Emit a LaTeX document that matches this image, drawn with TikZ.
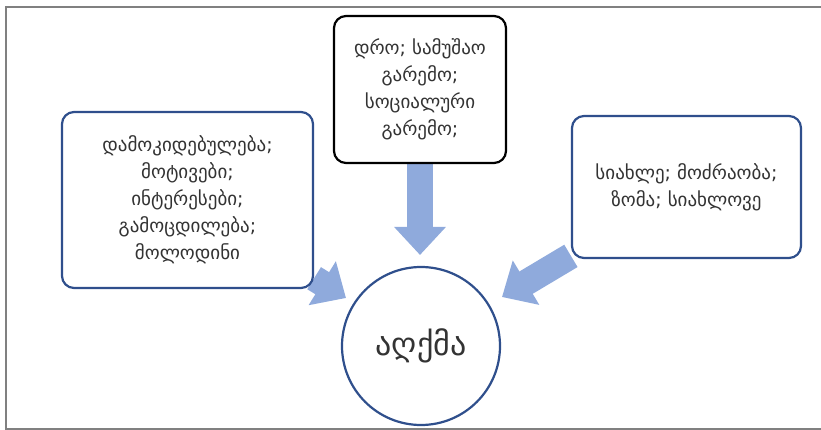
\documentclass[tikz,border=0pt]{standalone}
\usepackage{fontspec}
\setmainfont{DejaVu Sans}
\usetikzlibrary{arrows.meta,backgrounds}

\definecolor{boxblue}{HTML}{2F4F8C}
\definecolor{arrowblue}{HTML}{8FAADC}
\definecolor{textgray}{HTML}{333333}

\tikzset{
	factor/.style={draw=boxblue, line width=2.2pt, rounded corners=12pt, fill=white, align=center, text=textgray, inner sep=0pt, font=\fontsize{19}{27}\selectfont},
	flow/.style={draw=arrowblue, line width=26pt, -{Triangle[length=28pt, width=50pt]}},
}

\begin{document}
\begin{tikzpicture}[x=1pt, y=-1pt]
		\useasboundingbox (0, 0) rectangle (821, 430);
		\draw [gray, line width=1.5pt] (6, 7) rectangle (830, 429);

		\node[factor, minimum width=251pt, minimum height=176pt] (pers) at (187.5, 200) {დამოკიდებულება;\\მოტივები;\\ინტერესები;\\გამოცდილება;\\მოლოდინი};
		\node[factor, draw=black, minimum width=172pt, minimum height=147pt] (sit) at (420, 89.5) {დრო; სამუშაო\\გარემო;\\სოციალური\\გარემო;};
		\node[factor, minimum width=229pt, minimum height=142pt] (targ) at (686.5, 187) {სიახლე; მოძრაობა;\\ზომა; სიახლოვე};
		\node[draw=boxblue, line width=2.2pt, circle, fill=white, minimum size=158pt, text=textgray, font=\fontsize{32}{38}\selectfont] (percept) at (421, 346) {აღქმა};

		\coordinate (tipL) at (346, 298);
		\coordinate (tipT) at (420, 255);
		\coordinate (tipR) at (502, 297);

		\begin{pgfonlayer}{background}
			\draw [flow] (pers) -- (tipL);
			\draw [flow] (sit) -- (tipT);
			\draw [flow] (targ) -- (tipR);
		\end{pgfonlayer}
	\end{tikzpicture}
\end{document}
